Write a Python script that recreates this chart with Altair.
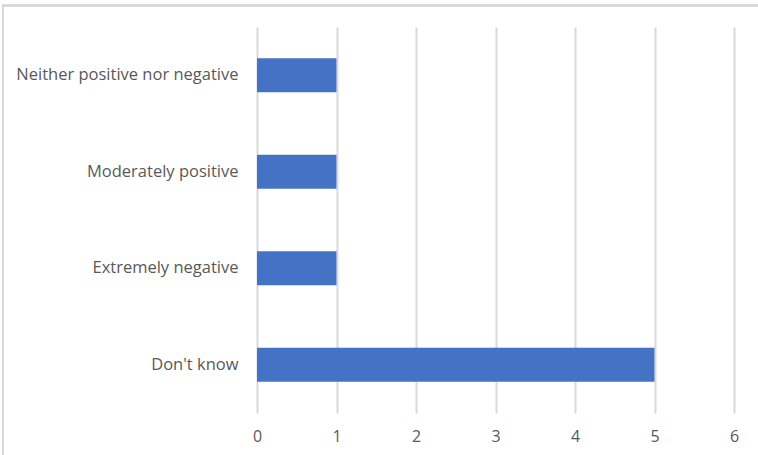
import altair as alt
import pandas as pd

categories = ["Neither positive nor negative", "Moderately positive", "Extremely negative", "Don't know"]
values = [1, 1, 1, 5]
x_ticks = [0, 1, 2, 3, 4, 5, 6]

df = pd.DataFrame({"category": categories, "value": values})

bars = alt.Chart(df).mark_bar(color="#4472C4").encode(
    y=alt.Y("category:N", sort=categories, title=None,
            scale=alt.Scale(paddingInner=0.65, paddingOuter=0.325),
            axis=alt.Axis(ticks=False, domain=False, labelPadding=19, labelFontSize=16.5,
                          labelColor="#595959", labelFont="Open Sans", labelLimit=300)),
    x=alt.X("value:Q", title=None,
            scale=alt.Scale(domain=[0, 6], nice=False),
            axis=alt.Axis(values=x_ticks, ticks=False, domain=False, labelPadding=15,
                          labelFontSize=16, labelColor="#595959", labelFont="Open Sans",
                          labelFlush=False,
                          grid=True, gridColor="#d9d9d9", gridWidth=2, format="d")),
)

border = alt.Chart(df).mark_rect(fill=None, stroke="#d9d9d9", strokeWidth=2, clip=False).encode(
    x=alt.value(-254), x2=alt.value(520), y=alt.value(-21.5), y2=alt.value(440)
)

chart = alt.layer(border, bars).properties(
    width=477, height=386,
    autosize=alt.AutoSizeParams(type="none"),
    padding={"left": 257, "top": 27, "right": 24, "bottom": 42},
).configure_view(stroke=None)

chart.save("out.html", embed_options={"renderer": "svg", "actions": False})
